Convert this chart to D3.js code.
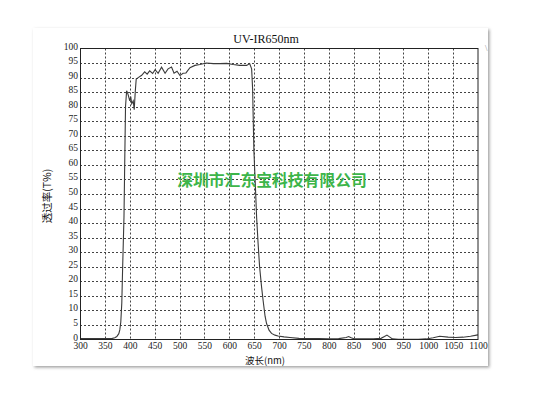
<!DOCTYPE html>
<html>
<head>
<meta charset="utf-8">
<script src="https://cdn.jsdelivr.net/npm/d3@7"></script>
<style>
html,body{margin:0;padding:0;background:#fff;}
svg{display:block;}
</style>
</head>
<body>
<svg id="chart" width="550" height="403"></svg>
<script>
// ---- data ----
const wavelengths = [300,320,340,355,365,370,374,378,380,382,384,385.6,387,388.4,390,391.5,393.7,395,397,400,402,404,407,409,411,413,417,424,430,435,440,446,451,457,464,471,477,484,489,495,501,507,513,521,531,541,554,568,581,595,608,621,635,641,645,647,649.5,652,655,658,661,665,668,672,675,680,685,692,698,710,722,740,755,780,800,820,835,840,845,852,870,890,905,912,917,922,928,940,960,980,996,1010,1023,1040,1055,1070,1085,1097,1100];
const transmittance = [0.3,0.3,0.3,0.3,0.4,0.6,1,2,3.3,6,12.5,24,33,42,62,80,85.5,85,84,82,83.5,81,82,79,85,89.5,90,90.8,92,91.2,92.3,91.4,92.7,91.5,93.6,91.5,93,93.6,91.5,92.2,90.7,91.5,91.6,93.4,94.2,94.5,95,94.8,94.8,94.9,94.5,94.2,94.2,94.8,93,86,65,55,42,33,25,18,13.5,8,5.5,3.2,2.1,1.5,1.2,0.9,0.7,0.4,0.3,0.3,0.2,0.3,0.7,1,0.6,0.2,0.2,0.2,0.4,1,1.5,0.9,0.2,0.1,0.1,0.1,0.2,0.6,1.1,0.8,0.7,0.8,1.1,1.5,1.6];
const xTickValues = [300,350,400,450,500,550,600,650,700,750,800,850,900,950,1000,1050,1100];
const yTickValues = [0,5,10,15,20,25,30,35,40,45,50,55,60,65,70,75,80,85,90,95,100];
const titleText = "UV-IR650nm";
const xTitle = "波长(nm)";
const yTitle = "透过率(T%)";
const watermark = "深圳市汇东宝科技有限公司";

// ---- layout ----
const svg = d3.select("#chart");
const L = 80, R = 478, T = 48.5, B = 339.5;
const x = d3.scaleLinear().domain([300,1100]).range([L,R]);
const y = d3.scaleLinear().domain([0,100]).range([B,T]);

const defs = svg.append("defs");
const f = defs.append("filter").attr("id","sh").attr("x","-5%").attr("y","-5%").attr("width","110%").attr("height","110%");
f.append("feDropShadow").attr("dx",1.5).attr("dy",1.5).attr("stdDeviation",1.6)
  .attr("flood-color","#777").attr("flood-opacity",0.7);

svg.append("rect").attr("x",33).attr("y",28).attr("width",455).attr("height",338)
  .attr("fill","#fff").attr("filter","url(#sh)");

// gridlines
const grid = svg.append("g").attr("stroke","#444").attr("stroke-width",1).attr("stroke-dasharray","2,2");
grid.selectAll("line.v").data(xTickValues.filter(d=>d>300&&d<1100)).join("line")
  .attr("x1",d=>Math.round(x(d))+0.5).attr("x2",d=>Math.round(x(d))+0.5).attr("y1",T).attr("y2",B);
grid.selectAll("line.h").data(yTickValues.filter(d=>d>0&&d<100)).join("line")
  .attr("y1",d=>Math.round(y(d))+0.5).attr("y2",d=>Math.round(y(d))+0.5).attr("x1",L).attr("x2",R);

// axes labels (using d3 axes, no tick lines)
const fontSerif = "'Liberation Serif','DejaVu Serif',serif";
const xa = svg.append("g").attr("transform",`translate(0,${B})`)
  .call(d3.axisBottom(x).tickValues(xTickValues).tickSize(0).tickPadding(3).tickFormat(d3.format("d")));
xa.select(".domain").remove();
xa.selectAll("text").attr("font-family",fontSerif).attr("font-size",9.5).attr("fill","#222");

const ya = svg.append("g").attr("transform",`translate(${L},-2.5)`)
  .call(d3.axisLeft(y).tickValues(yTickValues).tickSize(0).tickPadding(2).tickFormat(d3.format("d")));
ya.select(".domain").remove();
ya.selectAll("text").attr("font-family",fontSerif).attr("font-size",9.5).attr("fill","#222");

// curve
const line = d3.line().x((d,i)=>x(wavelengths[i])).y(d=>y(d)).curve(d3.curveLinear);
svg.append("path").datum(transmittance).attr("d",line)
  .attr("fill","none").attr("stroke","#3a3a3a").attr("stroke-width",1.1);

// frame
svg.append("rect").attr("x",L+0.5).attr("y",T).attr("width",R-L-0.5).attr("height",B-T)
  .attr("fill","none").attr("stroke","#222").attr("stroke-width",1);

// title
svg.append("text").attr("x",266).attr("y",43).attr("text-anchor","middle")
  .attr("font-family",fontSerif).attr("font-size",12).attr("fill","#111").text(titleText);

// axis titles
svg.append("text").attr("x",265).attr("y",363.5).attr("text-anchor","middle")
  .attr("font-family","'Noto Sans CJK SC',sans-serif").attr("font-size",9.5).attr("fill","#111").text(xTitle);
svg.append("text").attr("transform","translate(51,196) rotate(-90)").attr("text-anchor","middle")
  .attr("font-family","'Noto Sans CJK SC',sans-serif").attr("font-size",10.5).attr("fill","#111").text(yTitle);

// watermark
svg.append("text").attr("x",272).attr("y",186).attr("text-anchor","middle")
  .attr("font-family","'Noto Sans CJK SC',sans-serif").attr("font-weight","bold").attr("font-size",15.8)
  .attr("fill","#3db54a").text(watermark);

// stray mark at top right
svg.append("text").attr("x",485).attr("y",51).attr("font-family",fontSerif).attr("font-size",9)
  .attr("fill","#999").text("\\");
</script>
</body>
</html>
